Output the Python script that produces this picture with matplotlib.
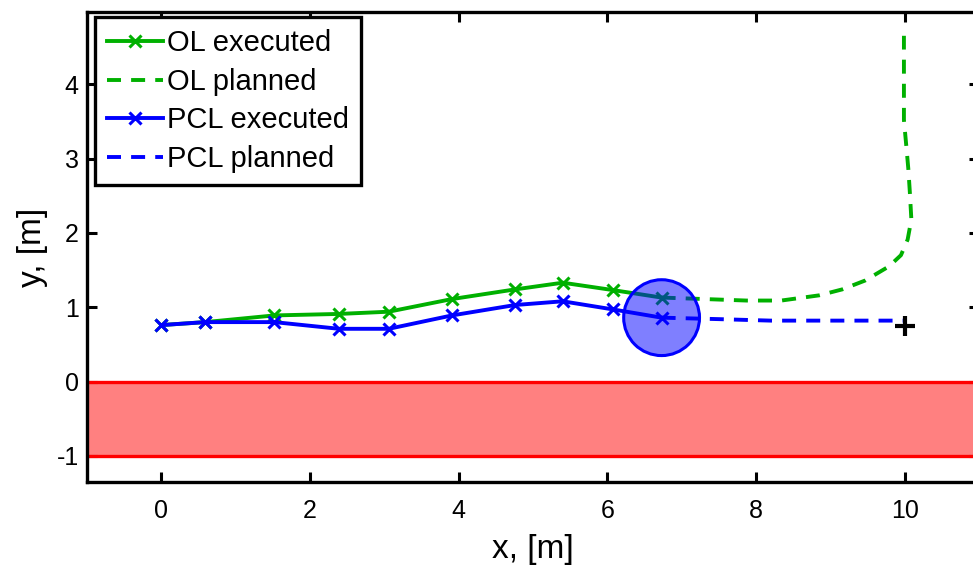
import matplotlib
matplotlib.use("Agg")
import matplotlib.pyplot as plt
from matplotlib.patches import Circle

plt.rcParams['font.family'] = ['Liberation Sans', 'DejaVu Sans']
plt.rcParams['axes.unicode_minus'] = False

# executed trajectories
ol_exec_x = [0.0, 0.59, 1.52, 2.39, 3.06, 3.91, 4.76, 5.40, 6.08, 6.73]
ol_exec_y = [0.76, 0.80, 0.89, 0.91, 0.94, 1.11, 1.24, 1.33, 1.23, 1.13]
pcl_exec_x = [0.0, 0.59, 1.52, 2.39, 3.06, 3.91, 4.76, 5.40, 6.08, 6.73]
pcl_exec_y = [0.76, 0.80, 0.80, 0.71, 0.71, 0.89, 1.03, 1.08, 0.97, 0.86]

# planned trajectories
ol_plan_x = [6.73, 7.31, 7.87, 8.34, 8.85, 9.16, 9.47, 9.79, 9.95, 10.04, 10.09, 10.07, 10.05, 10.03, 9.99, 9.99, 9.99]
ol_plan_y = [1.13, 1.11, 1.09, 1.09, 1.16, 1.24, 1.36, 1.55, 1.70, 1.91, 2.18, 2.54, 2.85, 3.08, 3.52, 4.06, 4.65]
pcl_plan_x = [6.73, 7.50, 8.20, 9.00, 10.00]
pcl_plan_y = [0.86, 0.84, 0.82, 0.82, 0.82]

goal = (10.0, 0.75)
obstacle_center = (6.73, 0.86)
obstacle_radius = 0.51
band_low, band_high = -1.0, 0.0

xticks = [0, 2, 4, 6, 8, 10]
yticks = [-1, 0, 1, 2, 3, 4]

green = '#00b000'
blue = '#0000ff'

fig = plt.figure(figsize=(9.73, 5.66), dpi=100)
ax = fig.add_axes([87/973, 84/566, (979-87)/973, (482-12)/566])

ax.axhspan(band_low, band_high, color='#ff8080', lw=0, zorder=1)
ax.axhline(band_high, color='red', lw=2.4, zorder=2)
ax.axhline(band_low, color='red', lw=2.4, zorder=2)

ax.plot(ol_exec_x, ol_exec_y, '-x', color=green, lw=2.8, ms=9, mew=2.2, label='OL executed', zorder=3)
ax.plot(ol_plan_x, ol_plan_y, '--', color=green, lw=2.8, dashes=(3.6, 2.6), label='OL planned', zorder=3)
ax.plot(pcl_exec_x, pcl_exec_y, '-x', color=blue, lw=2.8, ms=9, mew=2.2, label='PCL executed', zorder=3)
ax.plot(pcl_plan_x, pcl_plan_y, '--', color=blue, lw=2.8, dashes=(3.6, 2.6), label='PCL planned', zorder=3)

circ = Circle(obstacle_center, obstacle_radius, facecolor=(0, 0, 1, 0.5), edgecolor=blue, lw=2.2, zorder=4)
ax.add_patch(circ)
ax.plot([goal[0]], [goal[1]], '+', color='black', ms=15, mew=3, zorder=5)

ax.set_xlim(-1, 11)
ax.set_ylim(-1.35, 4.97)
ax.set_xticks(xticks)
ax.set_yticks(yticks)
ax.tick_params(direction='in', length=7, width=2.2, top=True, right=True, labelsize=18)
ax.tick_params(axis='x', pad=12)
ax.tick_params(axis='y', pad=6)
for s in ax.spines.values():
    s.set_linewidth(2.4)
ax.set_xlabel('x, [m]', fontsize=24, labelpad=8)
ax.set_ylabel('y, [m]', fontsize=24, labelpad=6)

leg = ax.legend(loc='upper left', bbox_to_anchor=(8/892, 1 - 5/470), borderaxespad=0,
                fontsize=21, frameon=True, fancybox=False,
                edgecolor='black', framealpha=1,
                handlelength=1.9, labelspacing=0.36, borderpad=0.42, handletextpad=0.15)
leg.get_frame().set_linewidth(2.4)

fig.savefig('out.png', dpi=100)
